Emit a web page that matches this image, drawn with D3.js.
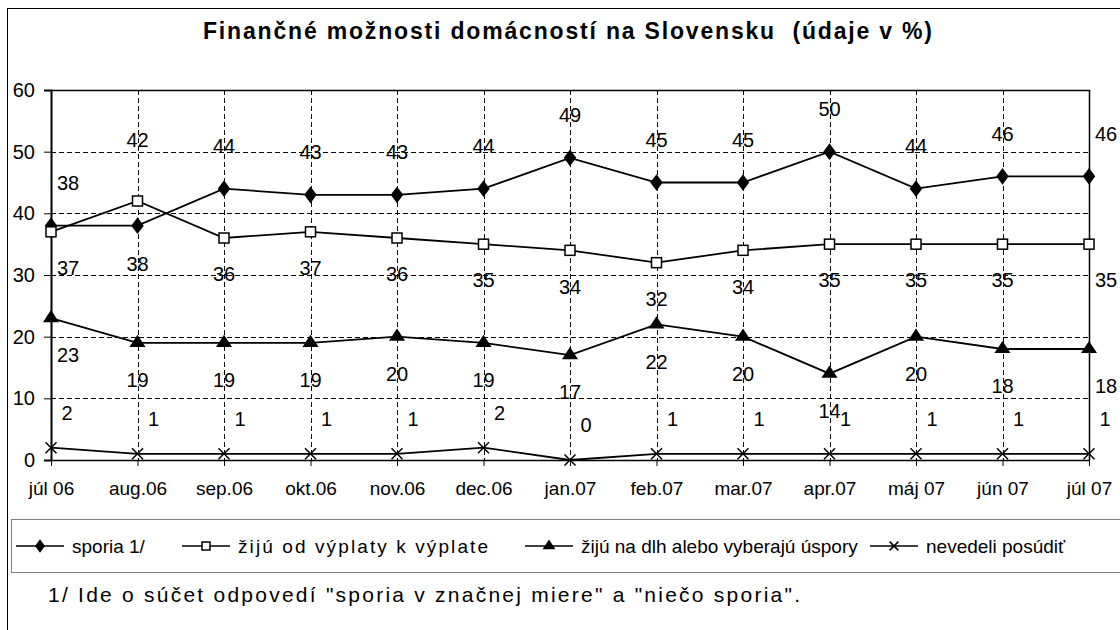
<!DOCTYPE html>
<html>
<head>
<meta charset="utf-8">
<script src="https://cdn.jsdelivr.net/npm/d3@7"></script>
<style>
  body { margin: 0; background: #fff; }
  text { font-family: "Liberation Sans", Arial, sans-serif; fill: #000; }
</style>
</head>
<body>
<div id="chart"></div>
<script>
var width = 1120;
var height = 630;

var categories = ["júl 06", "aug.06", "sep.06", "okt.06", "nov.06", "dec.06", "jan.07",
                  "feb.07", "mar.07", "apr.07", "máj 07", "jún 07", "júl 07"];
var sporia   = [38, 38, 44, 43, 43, 44, 49, 45, 45, 50, 44, 46, 46];
var vyplata  = [37, 42, 36, 37, 36, 35, 34, 32, 34, 35, 35, 35, 35];
var dlh      = [23, 19, 19, 19, 20, 19, 17, 22, 20, 14, 20, 18, 18];
var nevedeli = [2, 1, 1, 1, 1, 2, 0, 1, 1, 1, 1, 1, 1];
var yTicks = [0, 10, 20, 30, 40, 50, 60];
var seriesNames = ["sporia 1/", "žijú od výplaty k výplate", "žijú na dlh alebo vyberajú úspory", "nevedeli posúdiť"];

var svg = d3.select('#chart')
    .append('svg')
    .attr('width', width)
    .attr('height', height);

// outer frame of the chart
svg.append('rect')
    .attr('x', 7.5).attr('y', 8.5)
    .attr('width', 1130).attr('height', 640)
    .attr('fill', '#fff').attr('stroke', '#000').attr('stroke-width', 1);

svg.append('text')
    .attr('x', 203).attr('y', 39)
    .attr('textLength', 729).attr('lengthAdjust', 'spacing')
    .style('font-size', '23px').style('font-weight', 'bold')
    .style('white-space', 'pre')
    .text('Finančné možnosti domácností na Slovensku  (údaje v %)');

var x = d3.scalePoint().domain(categories).range([51, 1089]);
var y = d3.scaleLinear().domain([0, 60]).range([460, 90]);

// grid
var grid = svg.append('g').attr('stroke', '#000').attr('stroke-width', 1).attr('stroke-dasharray', '5,3');
grid.selectAll('.hg')
    .data(yTicks.filter(d => d > 0 && d < 60))
    .enter().append('line')
    .attr('x1', x(categories[0])).attr('x2', x(categories[categories.length - 1]))
    .attr('y1', d => Math.round(y(d)) + 0.5).attr('y2', d => Math.round(y(d)) + 0.5);
grid.selectAll('.vg')
    .data(categories.slice(1, -1))
    .enter().append('line')
    .attr('x1', d => Math.round(x(d)) + 0.5).attr('x2', d => Math.round(x(d)) + 0.5)
    .attr('y1', y(60)).attr('y2', y(0));

// plot border top / right
svg.append('path')
    .attr('d', 'M' + x(categories[0]) + ',' + (y(60) + 0.5) + 'H' + (x(categories[12]) + 0.5) + 'V' + y(0))
    .attr('fill', 'none').attr('stroke', '#000').attr('stroke-width', 1.5);

// axes
var yAxis = d3.axisLeft(y).tickValues(yTicks).tickSize(7).tickPadding(9);
var yAxisGroup = svg.append('g').attr('transform', 'translate(' + x(categories[0]) + ',0)').call(yAxis);
yAxisGroup.select('.domain').attr('stroke-width', 2);
yAxisGroup.selectAll('text').style('font-size', '20px').attr('fill', '#000');

var xAxis = d3.axisBottom(x).tickSize(6).tickPadding(16).tickSizeOuter(0);
var xAxisGroup = svg.append('g').attr('transform', 'translate(0,' + y(0) + ')').call(xAxis);
xAxisGroup.select('.domain').attr('stroke-width', 1.5);
xAxisGroup.selectAll('text').style('font-size', '19px').attr('fill', '#000');

var line = d3.line()
    .x((d, i) => x(categories[i]))
    .y(d => y(d));

var series = [sporia, vyplata, dlh, nevedeli];

series.forEach(function (s) {
    svg.append('path')
        .datum(s)
        .attr('fill', 'none').attr('stroke', '#000').attr('stroke-width', 1.8)
        .attr('d', line);
});

function drawMarker(g, k, cx, cy, scale) {
    scale = scale || 1;
    if (k === 0) {
        g.append('path').attr('d', d3.symbol().type(d3.symbolDiamond).size(80 * scale * scale)())
            .attr('transform', 'translate(' + cx + ',' + cy + ') scale(1.3,1)')
            .attr('fill', '#000');
    } else if (k === 1) {
        var s = 10 * scale;
        g.append('rect').attr('x', cx - s / 2).attr('y', cy - s / 2).attr('width', s).attr('height', s)
            .attr('fill', '#fff').attr('stroke', '#000').attr('stroke-width', 1.5);
    } else if (k === 2) {
        g.append('path').attr('d', d3.symbol().type(d3.symbolTriangle).size(85 * scale * scale)())
            .attr('transform', 'translate(' + cx + ',' + cy + ') scale(1.15,1)')
            .attr('fill', '#000');
    } else {
        var r = 5.5 * scale;
        g.append('path').attr('d', 'M' + (cx - r) + ',' + (cy - r) + 'L' + (cx + r) + ',' + (cy + r) +
            'M' + (cx - r) + ',' + (cy + r) + 'L' + (cx + r) + ',' + (cy - r))
            .attr('stroke', '#000').attr('stroke-width', 1.5);
    }
}

var markers = svg.append('g');
series.forEach(function (s, k) {
    s.forEach(function (v, i) {
        drawMarker(markers, k, x(categories[i]), y(v));
    });
});

// data labels
var labels = svg.append('g').style('font-size', '20px').attr('text-anchor', 'middle');
series.forEach(function (s, k) {
    s.forEach(function (v, i) {
        var dx = 0, dy;
        var edge = (i === 0 || i === s.length - 1) ? 17 : 0;
        if (k === 0) dy = (sporia[i] >= vyplata[i]) ? -43 : 38;
        else if (k === 1) dy = (vyplata[i] > sporia[i]) ? -61 : 36;
        else if (k === 2) dy = 37;
        else { dy = -35; dx = 16; edge = 0; }
        labels.append('text')
            .attr('x', x(categories[i]) + dx + edge)
            .attr('y', y(v) + dy)
            .attr('dy', '0.36em')
            .text(v);
    });
});

// legend
var legend = svg.append('g');
legend.append('rect')
    .attr('x', 11.5).attr('y', 519.5).attr('width', 1140).attr('height', 53)
    .attr('fill', '#fff').attr('stroke', '#808080').attr('stroke-width', 1);
var legendX = [16, 182, 525, 870];
var legendW = [null, 250, null, null];
seriesNames.forEach(function (name, k) {
    var lx = legendX[k];
    legend.append('line').attr('x1', lx).attr('x2', lx + 48).attr('y1', 546).attr('y2', 546)
        .attr('stroke', '#000').attr('stroke-width', 1.5);
    drawMarker(legend, k, lx + 24, 546, 0.8);
    var t = legend.append('text').attr('x', lx + 56).attr('y', 546).attr('dy', '0.36em')
        .style('font-size', '19px').text(name);
    if (legendW[k]) t.attr('textLength', legendW[k]).attr('lengthAdjust', 'spacing');
});

svg.append('text')
    .attr('x', 48).attr('y', 594).attr('dy', '0.36em')
    .attr('textLength', 752).attr('lengthAdjust', 'spacing')
    .style('font-size', '21px')
    .text('1/ Ide o súčet odpovedí "sporia v značnej miere" a "niečo sporia".');
</script>
</body>
</html>
